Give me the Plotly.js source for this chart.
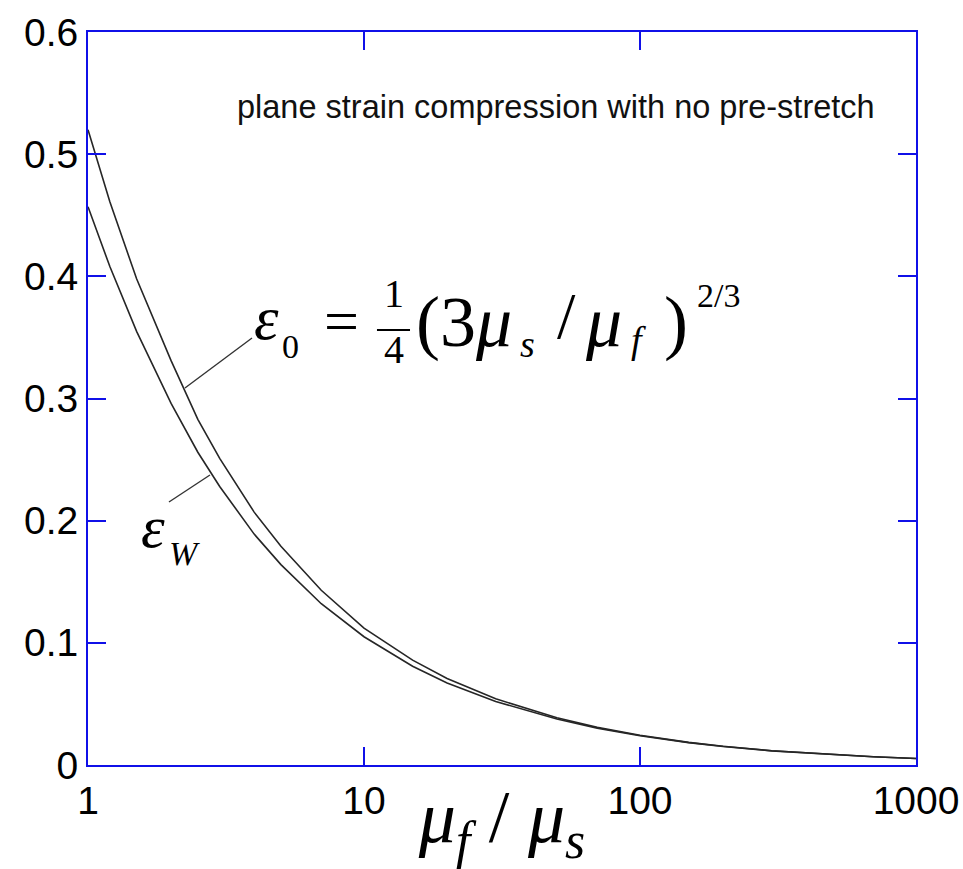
<!DOCTYPE html>
<html>
<head>
<meta charset="utf-8">
<script src="https://cdn.plot.ly/plotly-3.0.1.min.js"></script>
<style>html,body{margin:0;padding:0;background:#fff;}#chart{width:963px;height:869px;}</style>
</head>
<body>
<div id="chart"></div>
<script>
// mu_f / mu_s values (x)
const ratio = [1, 1.2, 1.5, 2, 2.5, 3, 4, 5, 7, 10, 15, 20, 30, 50, 70, 100, 150, 200, 300, 500, 700, 1000];
// epsilon_0 curve
const eps0 = [0.520, 0.461, 0.398, 0.331, 0.283, 0.251, 0.207, 0.179, 0.143, 0.112, 0.0858, 0.0708, 0.0542, 0.0386, 0.0308, 0.0243, 0.0185, 0.0153, 0.0117, 0.0084, 0.0067, 0.0053];
// epsilon_W curve
const epsW = [0.457, 0.408, 0.355, 0.296, 0.256, 0.228, 0.189, 0.164, 0.132, 0.105, 0.0808, 0.0672, 0.0520, 0.0376, 0.0302, 0.0240, 0.0183, 0.0152, 0.0116, 0.0084, 0.0067, 0.0053];
const xTicks = [1, 10, 100, 1000];
const xTickText = ["1", "10", "100", "1000"];
const yTicks = [0, 0.1, 0.2, 0.3, 0.4, 0.5, 0.6];
const yTickText = ["0", "0.1", "0.2", "0.3", "0.4", "0.5", "0.6"];

const blue = '#1010e8';
const serif = 'Liberation Serif, Times New Roman, serif';
const sans = 'Liberation Sans, Arial, sans-serif';

const traces = [
  {x: ratio, y: eps0, type: 'scatter', mode: 'lines', name: 'ε0', line: {color: '#262626', width: 1.6}, showlegend: false},
  {x: ratio, y: epsW, type: 'scatter', mode: 'lines', name: 'εW', line: {color: '#262626', width: 1.6}, showlegend: false}
];

function ann(text, x, y, size, opts) {
  return Object.assign({text: text, x: x, y: y, xref: 'paper', yref: 'paper', showarrow: false,
    xanchor: 'center', yanchor: 'middle', font: {family: serif, size: size, color: '#000'}}, opts || {});
}

const annotations = [
  ann('plane strain compression with no pre-stretch', 0.5652, 0.8977, 32.5, {font: {family: sans, size: 32.5, color: '#111'}}),
  ann('<i>ε</i>', 0.2150, 0.6098, 62),
  ann('0', 0.2440, 0.5716, 34),
  ann('=', 0.3056, 0.6057, 62),
  ann('1', 0.3696, 0.6426, 40),
  ann('4', 0.3696, 0.5675, 40),
  ann('(3<i>μ</i>', 0.3937, 0.6044, 72, {xanchor: 'left'}),
  ann('<i>s</i>', 0.5302, 0.5750, 38),
  ann('/', 0.5785, 0.6126, 66),
  ann('<i>μ</i>', 0.6220, 0.6044, 72),
  ann('<i>f</i>', 0.6643, 0.5798, 38),
  ann(')', 0.7100, 0.6044, 72),
  ann('2/3', 0.7620, 0.6400, 34),
  ann('<i>ε</i>', 0.0785, 0.3247, 60),
  ann('<i>W</i>', 0.1171, 0.2892, 34)
];

const shapes = [
  {type: 'line', xref: 'paper', yref: 'paper', x0: 0.3490, x1: 0.3889, y0: 0.5935, y1: 0.5935, line: {color: '#000', width: 2}},
  {type: 'line', xref: 'paper', yref: 'paper', x0: 0.1981, y0: 0.5825, x1: 0.1171, y1: 0.5143, line: {color: '#333', width: 1.4}},
  {type: 'line', xref: 'paper', yref: 'paper', x0: 0.0978, y0: 0.3588, x1: 0.1473, y1: 0.3956, line: {color: '#333', width: 1.4}}
];

const layout = {
  width: 963, height: 869,
  margin: {l: 88, r: 47, t: 32, b: 104},
  paper_bgcolor: '#fff', plot_bgcolor: '#fff',
  showlegend: false,
  xaxis: {
    type: 'log', range: [0, 3],
    tickvals: xTicks, ticktext: xTickText,
    ticks: 'inside', ticklen: 18, tickwidth: 2, tickcolor: blue,
    showline: true, linecolor: blue, linewidth: 2, mirror: 'allticks',
    showgrid: false, zeroline: false,
    tickfont: {family: sans, size: 39, color: '#000'},
    title: {text: '<i>μ</i><sub><i>f</i></sub> / <i>μ</i><sub><i>s</i></sub>', font: {family: serif, size: 74, color: '#000'}, standoff: 0}
  },
  yaxis: {
    range: [0, 0.6],
    tickvals: yTicks, ticktext: yTickText,
    ticks: 'inside', ticklen: 18, tickwidth: 2, tickcolor: blue,
    showline: true, linecolor: blue, linewidth: 2, mirror: 'allticks',
    showgrid: false, zeroline: false,
    tickfont: {family: sans, size: 39, color: '#000'}
  },
  annotations: annotations,
  shapes: shapes
};

Plotly.newPlot('chart', traces, layout, {displayModeBar: false, staticPlot: true});
</script>
</body>
</html>
